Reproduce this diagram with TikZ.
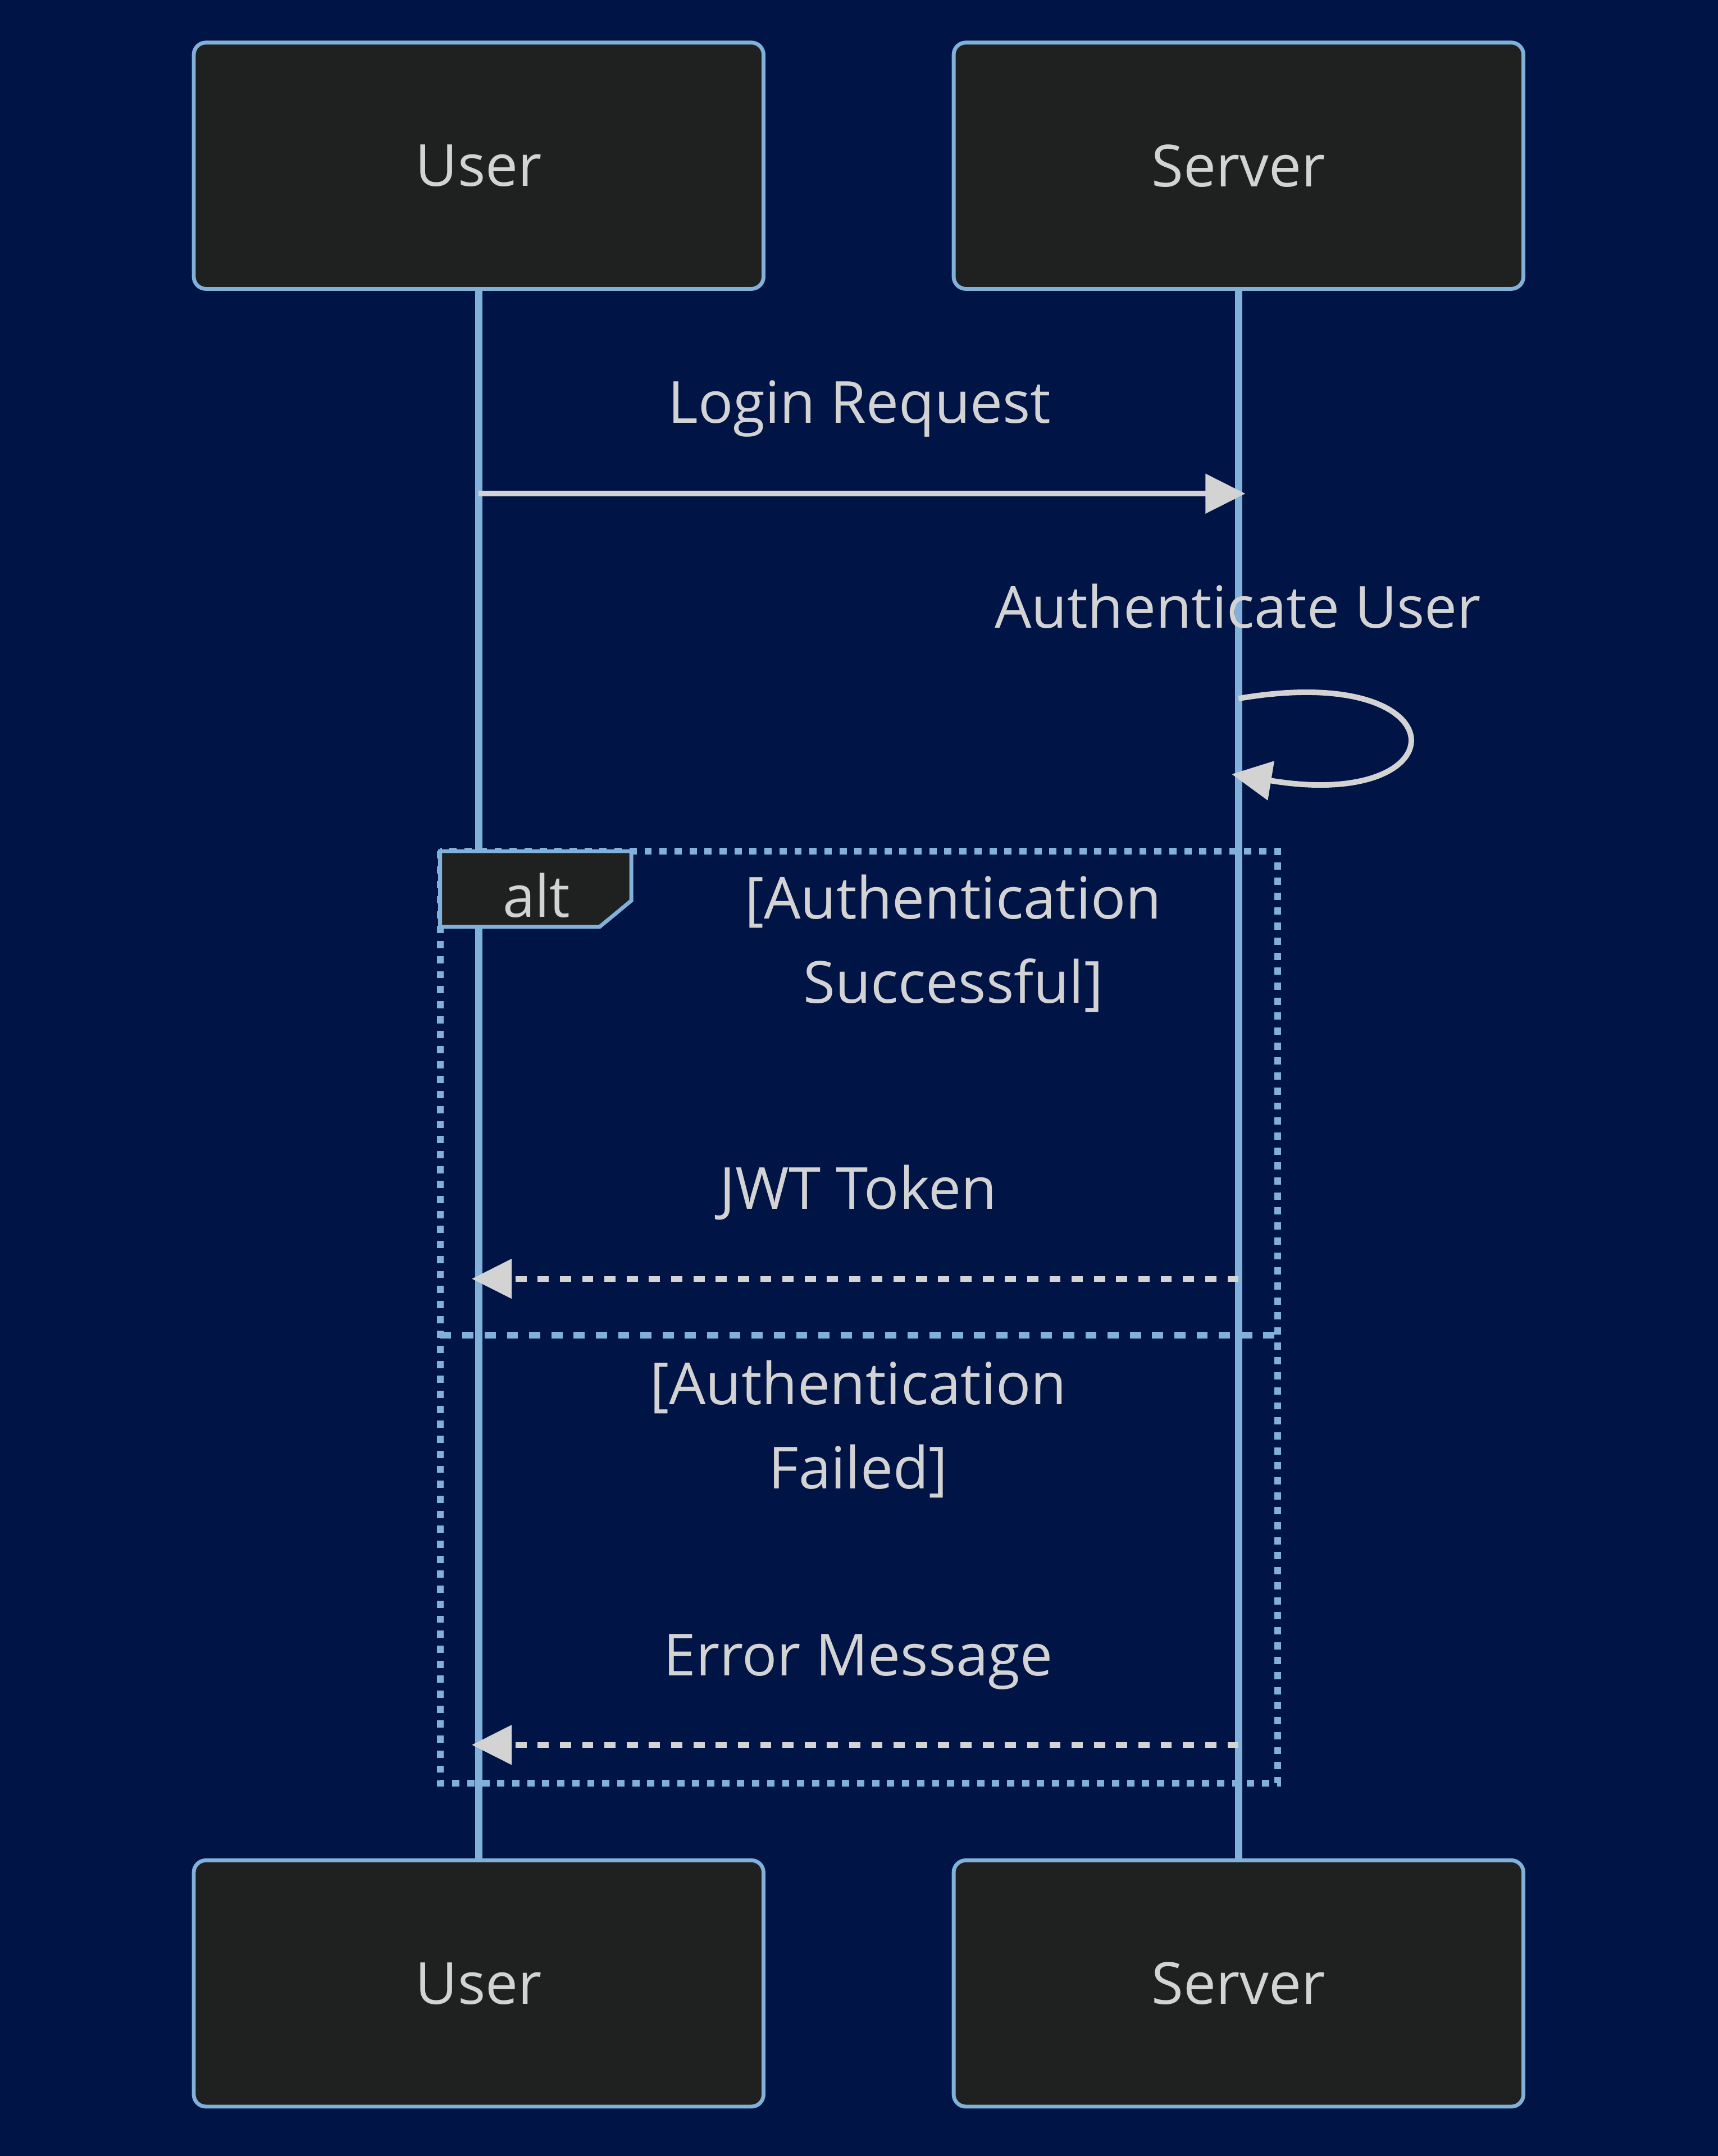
\documentclass[tikz,border=0pt]{standalone}
\usepackage{fontspec}
\setmainfont{Open Sans}
\usetikzlibrary{arrows.meta, calc}

\definecolor{bgnavy}{HTML}{001446}
\definecolor{actorfill}{HTML}{1F2020}
\definecolor{actorline}{HTML}{81B1DB}
\definecolor{msgtext}{HTML}{D3D3D3}

\begin{document}
\begin{tikzpicture}[x=0.01cm, y=-0.01cm,
    actor/.style={draw=actorline, line width=0.8pt, fill=actorfill, rounded corners=2.5pt,
        minimum width=4.14cm, minimum height=1.79cm, text=msgtext, font=\fontsize{12}{17.4}\selectfont},
    lifeline/.style={draw=actorline, line width=1.5pt},
    msg/.style={draw=msgtext, line width=1.15pt, -{Triangle[length=0.29cm, width=0.28cm]}},
    reply/.style={msg, dash pattern=on 2.3pt off 2.3pt},
    msglabel/.style={text=msgtext, anchor=base, align=center, font=\fontsize{12}{17.4}\selectfont},
    altframe/.style={draw=actorline, line width=1.4pt, dash pattern=on 1.5pt off 1.6pt},
    altsplit/.style={draw=actorline, line width=1.4pt, dash pattern=on 2.3pt off 2.3pt}]

    % Background
    \fill[bgnavy] (0,0) rectangle (1249,1568);
    \useasboundingbox (0,0) rectangle (1249,1568);

    % Actors
    \node[actor] (userTop) at (348,120.5) {User};
    \node[actor] (serverTop) at (900.5,120.5) {Server};
    \node[actor] (userBot) at (348,1442.5) {User};
    \node[actor] (serverBot) at (900.5,1442.5) {Server};

    % Lifelines
    \draw[lifeline] (userTop) -- (userBot);
    \draw[lifeline] (serverTop) -- (serverBot);

    % Login Request
    \node[msglabel] (loginText) at (625,307.5) {Login Request};
    \coordinate (loginFrom) at (userTop |- 0,359);
    \coordinate (loginTo) at ($(serverTop |- 0,359)+(5,0)$);
    \draw[msg] (loginFrom) -- (loginTo);

    % Authenticate User (self call)
    \node[msglabel] (authText) at (900,456.5) {Authenticate User};
    \coordinate (selfFrom) at (serverTop |- 0,508);
    \coordinate (selfTo) at ($(serverTop |- 0,563)+(-5,0)$);
    \draw[msg] (selfFrom) .. controls (1064,480) and (1064,591) .. (selfTo);

    % Alt frame
    \coordinate (altNW) at (320,619);
    \coordinate (altSE) at (929,1297);
    \draw[altframe] (altNW) rectangle (altSE);
    \draw[altsplit] (altNW |- 0,971) coordinate (splitL) -- (splitL -| altSE);
    \draw[actorline, line width=0.8pt, fill=actorfill]
        (altNW) -- (459,619) -- (459,655) -- (436,674) -- (320,674) -- cycle;
    \node[msglabel] (altText) at (390,667) {alt};
    \node[msglabel] (okText) at (693,729.5) {[Authentication\\Successful]};
    \node[msglabel] (failText) at (624,1082.5) {[Authentication\\Failed]};

    % Replies
    \node[msglabel] (jwtText) at (624,879.5) {JWT Token};
    \coordinate (jwtFrom) at (serverTop |- 0,930);
    \coordinate (jwtTo) at ($(userTop |- 0,930)+(-5,0)$);
    \draw[reply] (jwtFrom) -- (jwtTo);

    \node[msglabel] (errText) at (624,1218.5) {Error Message};
    \coordinate (errFrom) at (serverTop |- 0,1269);
    \coordinate (errTo) at ($(userTop |- 0,1269)+(-5,0)$);
    \draw[reply] (errFrom) -- (errTo);
\end{tikzpicture}
\end{document}
